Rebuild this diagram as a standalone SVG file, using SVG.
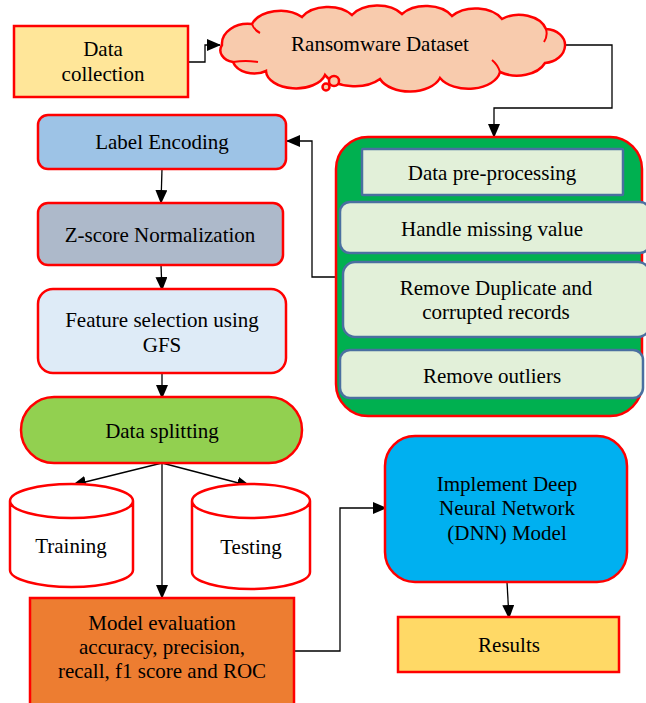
<svg xmlns="http://www.w3.org/2000/svg" width="646" height="703" viewBox="0 0 646 703">
<style>
text{font-family:"Liberation Serif","Times New Roman","DejaVu Serif",serif;font-size:21px;fill:#000;text-anchor:middle}
.r{stroke:#FF0000;stroke-width:2.5}
.in{fill:#E2F0D9;stroke:#4A6FA0;stroke-width:2.5}
.c{fill:none;stroke:#000;stroke-width:1.3}
</style>
<defs>
<marker id="ah" markerUnits="userSpaceOnUse" markerWidth="14" markerHeight="12" refX="13" refY="6" orient="auto"><path d="M0,0 L14,6 L0,12 Z" fill="#000"/></marker>
</defs>
<rect width="646" height="703" fill="#fff"/>
<g id="connectors">
<polyline class="c" points="188,62 205,62 205,45 220,45" marker-end="url(#ah)"/>
<polyline class="c" points="566,45 612,45 612,108 494,108 494,137" marker-end="url(#ah)"/>
<polyline class="c" points="336,277 312,277 312,141 287,141" marker-end="url(#ah)"/>
<line class="c" x1="162" y1="169" x2="161" y2="203" marker-end="url(#ah)"/>
<line class="c" x1="161" y1="265" x2="162" y2="290" marker-end="url(#ah)"/>
<line class="c" x1="162" y1="373" x2="162" y2="398" marker-end="url(#ah)"/>
<line class="c" x1="162" y1="463" x2="73" y2="485" marker-end="url(#ah)"/>
<line class="c" x1="162" y1="463" x2="250" y2="486" marker-end="url(#ah)"/>
<line class="c" x1="162" y1="463" x2="162" y2="598" marker-end="url(#ah)"/>
<polyline class="c" points="294,651 340,651 340,508 386,508" marker-end="url(#ah)"/>
<line class="c" x1="507" y1="582" x2="509" y2="618" marker-end="url(#ah)"/>
</g>
<g id="data-collection">
<rect class="r" x="14" y="26" width="174" height="71" fill="#FFE699"/>
<text x="103" y="56">Data</text>
<text x="103" y="81">collection</text>
</g>
<g id="ransomware-dataset">
<path class="r" fill="#F8CBAD" d="M222,45 A26,20 0 0 1 252,24 A30,20 0 0 1 302,17 A30,20 0 0 1 352,15 A30,20 0 0 1 402,14 A30,20 0 0 1 452,16 A30,20 0 0 1 502,19 A28,20 0 0 1 546,29 A20,16 0 0 1 565,46 A22,18 0 0 1 545,63 A30,20 0 0 1 500,72 A32,20 0 0 1 440,78 A32,20 0 0 1 380,79 A32,18 0 0 1 325,75 A30,18 0 0 1 266,71 A22,16 0 0 1 233,62 A16,12 0 0 1 222,45 Z"/>
<path d="M233,62 Q246,60 258,62 M500,72 Q498,65 492,60 M546,29 Q548,36 544,42 M252,24 Q254,30 260,33" fill="none" stroke="#FF0000" stroke-width="2"/>
<circle class="r" cx="334" cy="81" r="5" fill="#F8CBAD"/>
<circle class="r" cx="326" cy="87" r="3.5" fill="#F8CBAD"/>
<text x="380" y="51">Ransomware Dataset</text>
</g>
<g id="preprocessing">
<rect class="r" x="336" y="137" width="306" height="279" rx="32" fill="#00B050"/>
<rect class="in" x="362" y="149" width="261" height="46" rx="1"/>
<text x="492" y="180">Data pre-processing</text>
<rect class="in" x="340" y="202" width="310" height="51" rx="10"/>
<text x="492" y="236">Handle missing value</text>
<rect class="in" x="343" y="262" width="307" height="75" rx="12"/>
<text x="496" y="295">Remove Duplicate and</text>
<text x="496" y="319">corrupted records</text>
<rect class="in" x="340" y="350" width="303" height="48" rx="10"/>
<text x="492" y="383">Remove outliers</text>
</g>
<g id="label-encoding">
<rect class="r" x="38" y="115" width="248" height="54" rx="10" fill="#9DC3E6"/>
<text x="162" y="149">Label Encoding</text>
</g>
<g id="zscore">
<rect class="r" x="38" y="203" width="245" height="62" rx="10" fill="#ADB9CA"/>
<text x="160" y="242">Z-score Normalization</text>
</g>
<g id="feature-selection">
<rect class="r" x="38" y="289" width="248" height="84" rx="15" fill="#DEEBF7"/>
<text x="162" y="327">Feature selection using</text>
<text x="162" y="352">GFS</text>
</g>
<g id="data-splitting">
<rect class="r" x="21" y="397" width="281" height="66" rx="33" fill="#92D050"/>
<text x="162" y="438">Data splitting</text>
</g>
<g id="training">
<path class="r" fill="#fff" d="M10,501 A61.5,17 0 0 1 133,501 V570 A61.5,17 0 0 1 10,570 Z M10,501 A61.5,17 0 0 0 133,501"/>
<text x="71" y="553">Training</text>
</g>
<g id="testing">
<path class="r" fill="#fff" d="M192,501 A59,17 0 0 1 310,501 V572 A59,17 0 0 1 192,572 Z M192,501 A59,17 0 0 0 310,501"/>
<text x="251" y="554">Testing</text>
</g>
<g id="model-evaluation">
<rect class="r" x="30" y="598" width="264" height="108" fill="#ED7D31"/>
<text x="162" y="630">Model evaluation</text>
<text x="162" y="654">accuracy, precision,</text>
<text x="162" y="678">recall, f1 score and ROC</text>
</g>
<g id="dnn">
<rect class="r" x="385" y="436" width="242" height="146" rx="30" fill="#00B0F0"/>
<text x="507" y="491">Implement Deep</text>
<text x="507" y="515">Neural Network</text>
<text x="507" y="540">(DNN) Model</text>
</g>
<g id="results">
<rect class="r" x="398" y="617" width="221" height="55" fill="#FFD966"/>
<text x="509" y="652">Results</text>
</g>
</svg>
